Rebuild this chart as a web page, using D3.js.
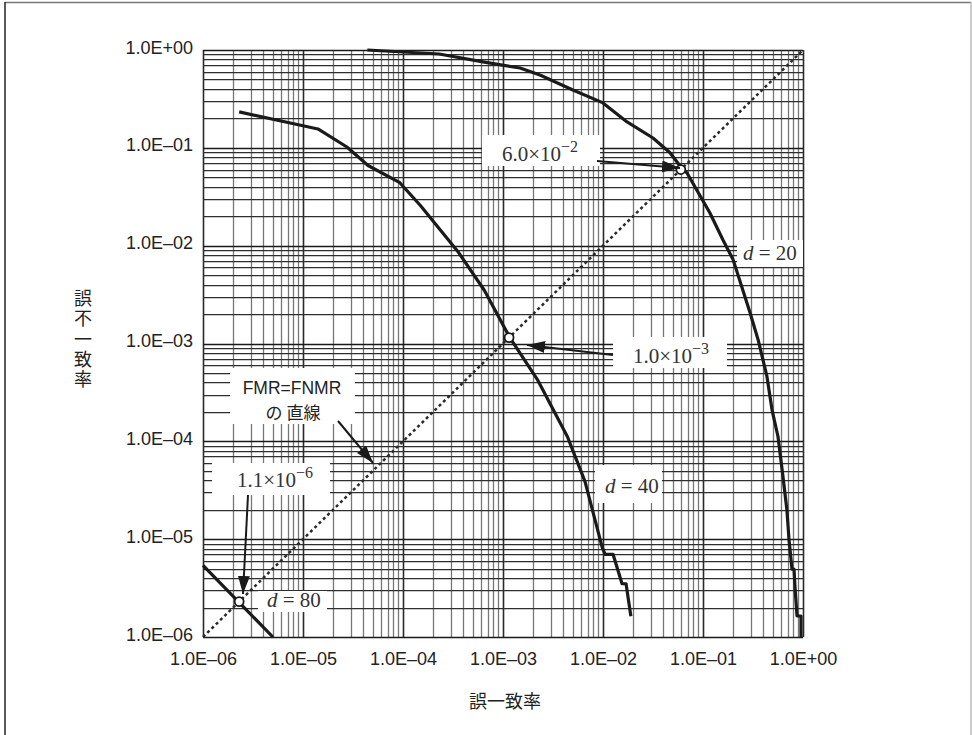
<!DOCTYPE html>
<html>
<head>
<meta charset="utf-8">
<script src="https://cdn.jsdelivr.net/npm/d3@7"></script>
<style>
  body { margin: 0; background: #fff; }
</style>
</head>
<body>
<svg id="chart" width="972" height="735"></svg>
<script>
// -------- data --------
const xTickValues = [1e-6, 1e-5, 1e-4, 1e-3, 1e-2, 1e-1, 1];
const xTickLabels = ["1.0E–06", "1.0E–05", "1.0E–04", "1.0E–03", "1.0E–02", "1.0E–01", "1.0E+00"];
const yTickValues = [1e-6, 1e-5, 1e-4, 1e-3, 1e-2, 1e-1, 1];
const yTickLabels = ["1.0E–06", "1.0E–05", "1.0E–04", "1.0E–03", "1.0E–02", "1.0E–01", "1.0E+00"];

// d = 20 curve (FMR, FNMR)
const d20FMR = [4.4e-5, 2.3e-4, 6.3e-4, 1.48e-3, 2.34e-3, 5e-3, 0.01, 0.0174, 0.0316, 0.0468,
  0.063, 0.069, 0.117, 0.158, 0.2, 0.295, 0.355, 0.436, 0.49, 0.562, 0.63, 0.69,
  0.724, 0.776, 0.813, 0.832, 0.871, 0.955, 0.955];
const d20FNMR = [1.0, 0.91, 0.755, 0.655, 0.556, 0.39, 0.288, 0.184, 0.126, 0.089,
  0.0597, 0.0556, 0.0217, 0.0115, 7.2e-3, 2.07e-3, 1.1e-3, 4.6e-4, 2.1e-4, 1.12e-4, 4.4e-5, 2.0e-5,
  1.0e-5, 4.94e-6, 4.94e-6, 3.24e-6, 1.64e-6, 1.64e-6, 1e-6];

// d = 40 curve
const d40FMR = [2.3e-6, 1.41e-5, 2.75e-5, 4.47e-5, 9.3e-5, 1.5e-4, 3.6e-4, 6.5e-4, 1.17e-3,
  2.2e-3, 4.4e-3, 6.6e-3, 9.8e-3, 0.0105, 0.0126, 0.0155, 0.017, 0.019];
const d40FNMR = [0.233, 0.156, 0.102, 0.066, 0.044, 0.0256, 8.5e-3, 3.5e-3, 1.15e-3,
  4.3e-4, 1.12e-4, 3.9e-5, 8.3e-6, 7e-6, 7e-6, 3.5e-6, 3.5e-6, 1.63e-6];

// d = 80 curve
const d80FMR = [1e-6, 5e-6];
const d80FNMR = [5.4e-6, 1e-6];

// FMR = FNMR line and equal error points
const diagValues = [1e-6, 1];
const eerValues = [0.06, 1.15e-3, 2.3e-6];

// -------- setup --------
const svg = d3.select("#chart"),
  width = +svg.attr("width"),
  height = +svg.attr("height");

const sansFont = "'Liberation Sans', Arial, sans-serif",
  serifFont = "'Liberation Serif', 'Times New Roman', serif",
  cjkFont = "'Noto Sans CJK JP', 'Noto Sans', sans-serif";

const x = d3.scaleLog().domain([1e-6, 1]).range([203, 803]);
const y = d3.scaleLog().domain([1e-6, 1]).range([637, 50]);

// outer frame
svg.append("line").attr("x1", 5).attr("y1", 2.5).attr("x2", 971).attr("y2", 2.5)
  .attr("stroke", "#777").attr("stroke-width", 1.5);
svg.append("line").attr("x1", 5).attr("y1", 2).attr("x2", 5).attr("y2", 735)
  .attr("stroke", "#222").attr("stroke-width", 1.5);
svg.append("line").attr("x1", 971).attr("y1", 2).attr("x2", 971).attr("y2", 735)
  .attr("stroke", "#bbb").attr("stroke-width", 1.5);

// grid values : 1..9 x 10^k
const gridValues = [];
for (let k = -6; k < 0; k++) {
  for (let m = 1; m <= 9; m++) gridValues.push(m * Math.pow(10, k));
}
gridValues.push(1);
const isMajor = (v) => Math.abs(Math.log10(v) - Math.round(Math.log10(v))) < 1e-9;

const grid = svg.append("g").attr("id", "grid");

// vertical grid lines
grid.selectAll("line.v")
  .data(gridValues)
  .enter()
  .append("line")
  .attr("class", "v")
  .attr("x1", (d) => Math.round(x(d)) + 0.5)
  .attr("x2", (d) => Math.round(x(d)) + 0.5)
  .attr("y1", y(1))
  .attr("y2", y(1e-6))
  .attr("stroke", (d) => (isMajor(d) ? "#2a2a2a" : "#777"))
  .attr("stroke-width", (d) => (isMajor(d) ? 1.6 : 1.3));

// horizontal grid lines
grid.selectAll("line.h")
  .data(gridValues)
  .enter()
  .append("line")
  .attr("class", "h")
  .attr("y1", (d) => Math.round(y(d)) + 0.5)
  .attr("y2", (d) => Math.round(y(d)) + 0.5)
  .attr("x1", x(1e-6))
  .attr("x2", x(1))
  .attr("stroke", (d) => (isMajor(d) ? "#1a1a1a" : "#2e2e2e"))
  .attr("stroke-width", (d) => (isMajor(d) ? 1.6 : 1.25));

// white boxes behind the annotations (hide the grid)
const boxes = [
  [482, 135, 118, 31],
  [737, 240, 66, 27],
  [613, 337, 114, 31],
  [595, 465, 67, 38],
  [230, 368, 125, 56],
  [212, 463, 118, 32],
  [258, 591, 69, 21]
];
svg.append("g")
  .selectAll("rect")
  .data(boxes)
  .enter()
  .append("rect")
  .attr("x", (d) => d[0])
  .attr("y", (d) => d[1])
  .attr("width", (d) => d[2])
  .attr("height", (d) => d[3])
  .attr("fill", "#fff");

// axis tick labels
const xAxis = d3.axisBottom(x)
  .tickValues(xTickValues)
  .tickFormat((d, i) => xTickLabels[i])
  .tickSize(0)
  .tickPadding(0);
const xg = svg.append("g").attr("transform", "translate(0,665)").call(xAxis);
xg.select(".domain").remove();
xg.selectAll("text").attr("dy", 0).attr("y", 0)
  .attr("font-family", sansFont).attr("font-size", 18).attr("fill", "#222");

const yAxis = d3.axisLeft(y)
  .tickValues(yTickValues)
  .tickFormat((d, i) => yTickLabels[i])
  .tickSize(0)
  .tickPadding(0);
const yg = svg.append("g").attr("transform", "translate(193,0)").call(yAxis);
yg.select(".domain").remove();
yg.selectAll("text").attr("dy", 3).attr("x", 0)
  .attr("font-family", sansFont).attr("font-size", 18).attr("fill", "#222");

// axis titles
svg.append("text")
  .attr("x", 505).attr("y", 708)
  .attr("text-anchor", "middle")
  .attr("font-family", cjkFont).attr("font-size", 18).attr("fill", "#222")
  .text("誤一致率");

// vertical title, stacked upright characters
svg.append("text")
  .attr("x", 83).attr("y", 289)
  .attr("font-family", cjkFont).attr("font-size", 18).attr("fill", "#222")
  .style("writing-mode", "vertical-rl")
  .style("text-orientation", "upright")
  .style("letter-spacing", "2.4px")
  .text("誤不一致率");

// FMR = FNMR dotted line
const line = d3.line().x((d) => x(d[0])).y((d) => y(d[1]));
svg.append("path")
  .datum(diagValues.map((v) => [v, v]))
  .attr("d", line)
  .attr("fill", "none")
  .attr("stroke", "#2a2a2a")
  .attr("stroke-width", 2.5)
  .attr("stroke-dasharray", "3,3");

// curves
const curves = [
  [d20FMR, d20FNMR],
  [d40FMR, d40FNMR],
  [d80FMR, d80FNMR]
];
svg.append("g")
  .selectAll("path")
  .data(curves)
  .enter()
  .append("path")
  .attr("d", (c) => line(c[0].map((v, i) => [v, c[1][i]])))
  .attr("fill", "none")
  .attr("stroke", "#1a1a1a")
  .attr("stroke-width", 3.2)
  .attr("stroke-linejoin", "round");

// equal error points
svg.append("g")
  .selectAll("circle")
  .data(eerValues)
  .enter()
  .append("circle")
  .attr("cx", (d) => x(d))
  .attr("cy", (d) => y(d))
  .attr("r", 4.5)
  .attr("fill", "#fff")
  .attr("stroke", "#1a1a1a")
  .attr("stroke-width", 1.8);

// arrows
svg.append("defs")
  .append("marker")
  .attr("id", "head")
  .attr("viewBox", "0 0 18 12")
  .attr("refX", 18).attr("refY", 6)
  .attr("markerWidth", 18).attr("markerHeight", 12)
  .attr("markerUnits", "userSpaceOnUse")
  .attr("orient", "auto")
  .append("path")
  .attr("d", "M0,0L18,6L0,12Z")
  .attr("fill", "#1a1a1a");

const arrows = [
  [597, 161, 680, 168],
  [613, 355, 527, 345],
  [338, 421, 373, 463],
  [248, 495, 243, 594]
];
svg.append("g")
  .selectAll("line")
  .data(arrows)
  .enter()
  .append("line")
  .attr("x1", (d) => d[0]).attr("y1", (d) => d[1])
  .attr("x2", (d) => d[2]).attr("y2", (d) => d[3])
  .attr("stroke", "#1a1a1a")
  .attr("stroke-width", 2)
  .attr("marker-end", "url(#head)");

// value labels (serif, with superscript exponent)
function powLabel(px, py, mant, exp) {
  const t = svg.append("text")
    .attr("x", px).attr("y", py)
    .attr("font-family", serifFont).attr("font-size", 21).attr("fill", "#333");
  t.append("tspan").text(mant + "×10");
  t.append("tspan").attr("dy", -9).attr("font-size", 16).text("−" + exp);
}
powLabel(502, 161, "6.0", 2);
powLabel(633, 363, "1.0", 3);
powLabel(237, 487, "1.1", 6);

// d = labels
function dLabel(px, py, val) {
  const t = svg.append("text")
    .attr("x", px).attr("y", py)
    .attr("font-family", serifFont).attr("font-size", 21).attr("fill", "#333");
  t.append("tspan").attr("font-style", "italic").text("d");
  t.append("tspan").text(" = " + val);
}
dLabel(743, 260, 20);
dLabel(605, 493, 40);
dLabel(267, 607, 80);

// FMR=FNMR label, two lines
svg.append("text")
  .attr("x", 292).attr("y", 394)
  .attr("text-anchor", "middle")
  .attr("font-family", sansFont).attr("font-size", 17.5).attr("fill", "#222")
  .text("FMR=FNMR");
svg.append("text")
  .attr("x", 293).attr("y", 419)
  .attr("text-anchor", "middle")
  .attr("font-family", cjkFont).attr("font-size", 17).attr("fill", "#222")
  .text("の 直線");
</script>
</body>
</html>
